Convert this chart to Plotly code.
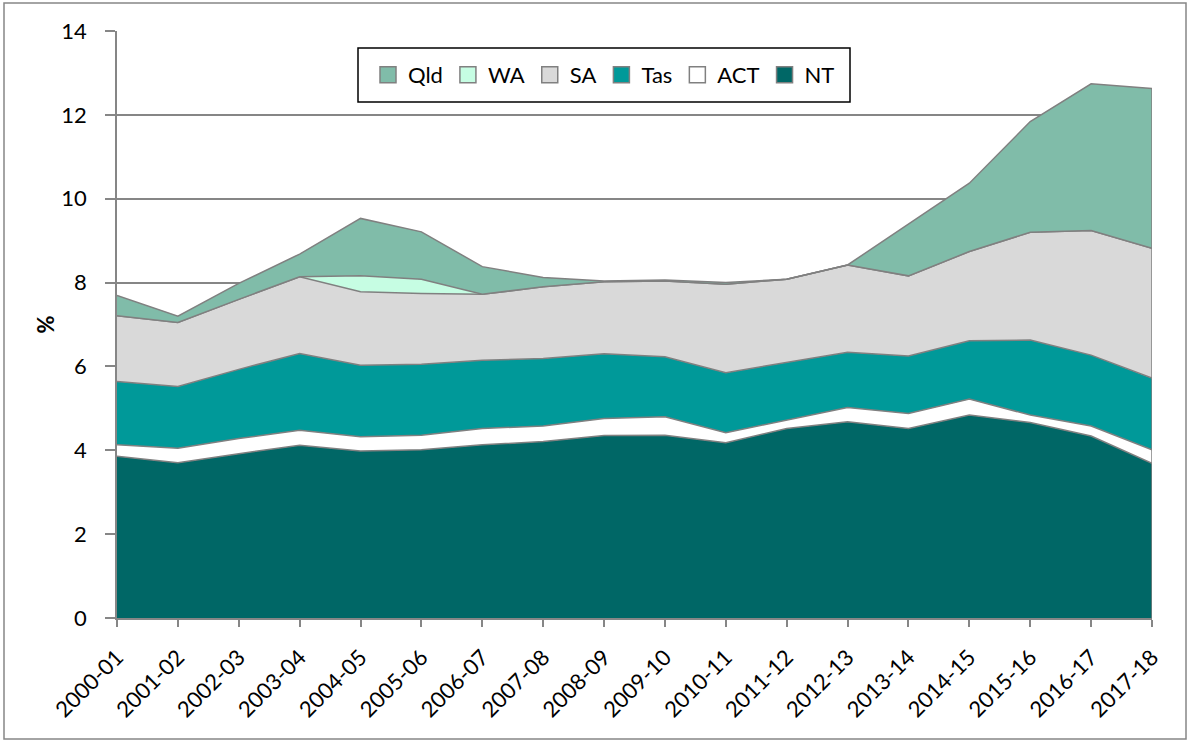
import plotly.graph_objects as go

years = ["2000-01", "2001-02", "2002-03", "2003-04", "2004-05", "2005-06", "2006-07",
         "2007-08", "2008-09", "2009-10", "2010-11", "2011-12", "2012-13", "2013-14",
         "2014-15", "2015-16", "2016-17", "2017-18"]

nt  = [3.86, 3.70, 3.92, 4.12, 3.98, 4.01, 4.13, 4.21, 4.35, 4.36, 4.18, 4.52, 4.68, 4.52, 4.84, 4.66, 4.34, 3.69]
act = [0.27, 0.35, 0.36, 0.36, 0.34, 0.35, 0.39, 0.37, 0.41, 0.44, 0.24, 0.20, 0.34, 0.36, 0.38, 0.18, 0.24, 0.32]
tas = [1.51, 1.47, 1.65, 1.83, 1.71, 1.69, 1.63, 1.61, 1.54, 1.43, 1.43, 1.37, 1.32, 1.37, 1.39, 1.79, 1.69, 1.71]
sa  = [1.57, 1.53, 1.67, 1.83, 1.75, 1.69, 1.57, 1.71, 1.72, 1.81, 2.11, 1.99, 2.08, 1.91, 2.13, 2.57, 2.97, 3.10]
wa  = [0.00, 0.00, 0.00, 0.00, 0.38, 0.34, 0.00, 0.00, 0.00, 0.00, 0.00, 0.00, 0.00, 0.00, 0.00, 0.00, 0.00, 0.00]
qld = [0.48, 0.15, 0.38, 0.54, 1.37, 1.13, 0.66, 0.22, 0.02, 0.02, 0.04, 0.00, 0.00, 1.23, 1.63, 2.64, 3.50, 3.81]

y_ticks = [0, 2, 4, 6, 8, 10, 12, 14]

series = [
    ("NT", nt, "#006766"),
    ("ACT", act, "#FFFFFF"),
    ("Tas", tas, "#009999"),
    ("SA", sa, "#D9D9D9"),
    ("WA", wa, "#C6FDE3"),
    ("Qld", qld, "#80BCA9"),
]
legend_order = ["Qld", "WA", "SA", "Tas", "ACT", "NT"]

LINE = "#808080"
FONT = "Lato"

fig = go.Figure()
for name, vals, col in series:
    fig.add_trace(go.Scatter(
        x=years, y=vals, name=name, stackgroup="one", mode="lines",
        line=dict(color=LINE, width=1.5), fillcolor=col, showlegend=False,
        hoverinfo="x+y+name"))

# right edge border of the stacked areas (as Excel draws polygon outlines)
total_last = sum(v[-1] for _, v, _ in series)
fig.add_trace(go.Scatter(x=[years[-1], years[-1]], y=[0, total_last], mode="lines",
                         line=dict(color=LINE, width=1.5), showlegend=False, hoverinfo="skip"))

# legend entries with square swatches
colmap = {n: c for n, _, c in series}
for rank, name in enumerate(legend_order):
    fig.add_trace(go.Scatter(
        x=[None], y=[None], mode="markers", name=name, legendrank=rank + 1,
        marker=dict(symbol="square", size=16, color=colmap[name],
                    line=dict(color=LINE, width=1.5))))

W, H = 1191, 742
L, R, T, B = 117, 39, 31, 124
pw, ph = W - L - R, H - T - B

def px_x(x):
    return (x - L) / pw

def px_y(y):
    return (H - B - y) / ph

fig.update_layout(
    width=W, height=H,
    margin=dict(l=L, r=R, t=T, b=B),
    paper_bgcolor="white", plot_bgcolor="white",
    font=dict(family=FONT, size=22, color="black"),
    showlegend=True,
    legend=dict(orientation="h", x=px_x(604), y=px_y(75), xanchor="center", yanchor="middle",
                bgcolor="rgba(0,0,0,0)", borderwidth=0, font=dict(size=22, family=FONT),
                itemsizing="trace", traceorder="normal"),
    xaxis=dict(type="category", range=[0, len(years) - 1], tickangle=-45,
               showgrid=False, showline=True, linecolor="#868686", linewidth=1.5,
               ticks="outside", ticklen=7, tickcolor="#868686", tickwidth=1.5,
               ticklabelstandoff=9,
               tickfont=dict(size=22, family=FONT), zeroline=False),
    yaxis=dict(range=[0, 14], tickvals=y_ticks, showgrid=True, gridcolor="#868686", gridwidth=1.5,
               showline=True, linecolor="#868686", linewidth=1.5,
               ticks="outside", ticklen=10, tickcolor="#868686", tickwidth=1.5,
               ticklabelstandoff=14, tickfont=dict(size=22, family=FONT), zeroline=False,
               title=dict(text="<b>%</b>", font=dict(size=22, family=FONT), standoff=1)),
    shapes=[
        dict(type="rect", xref="paper", yref="paper",
             x0=px_x(358), x1=px_x(850), y0=px_y(102), y1=px_y(48),
             line=dict(color="black", width=1.5), fillcolor="white", layer="above"),
        dict(type="rect", xref="paper", yref="paper",
             x0=px_x(4), x1=px_x(1186), y0=px_y(739), y1=px_y(3),
             line=dict(color="#868686", width=1.5), fillcolor="rgba(0,0,0,0)", layer="above"),
    ],
)

fig.write_html("out.html", config={"displayModeBar": False},
               post_script="document.body.style.margin='0';document.body.style.overflow='hidden';")
